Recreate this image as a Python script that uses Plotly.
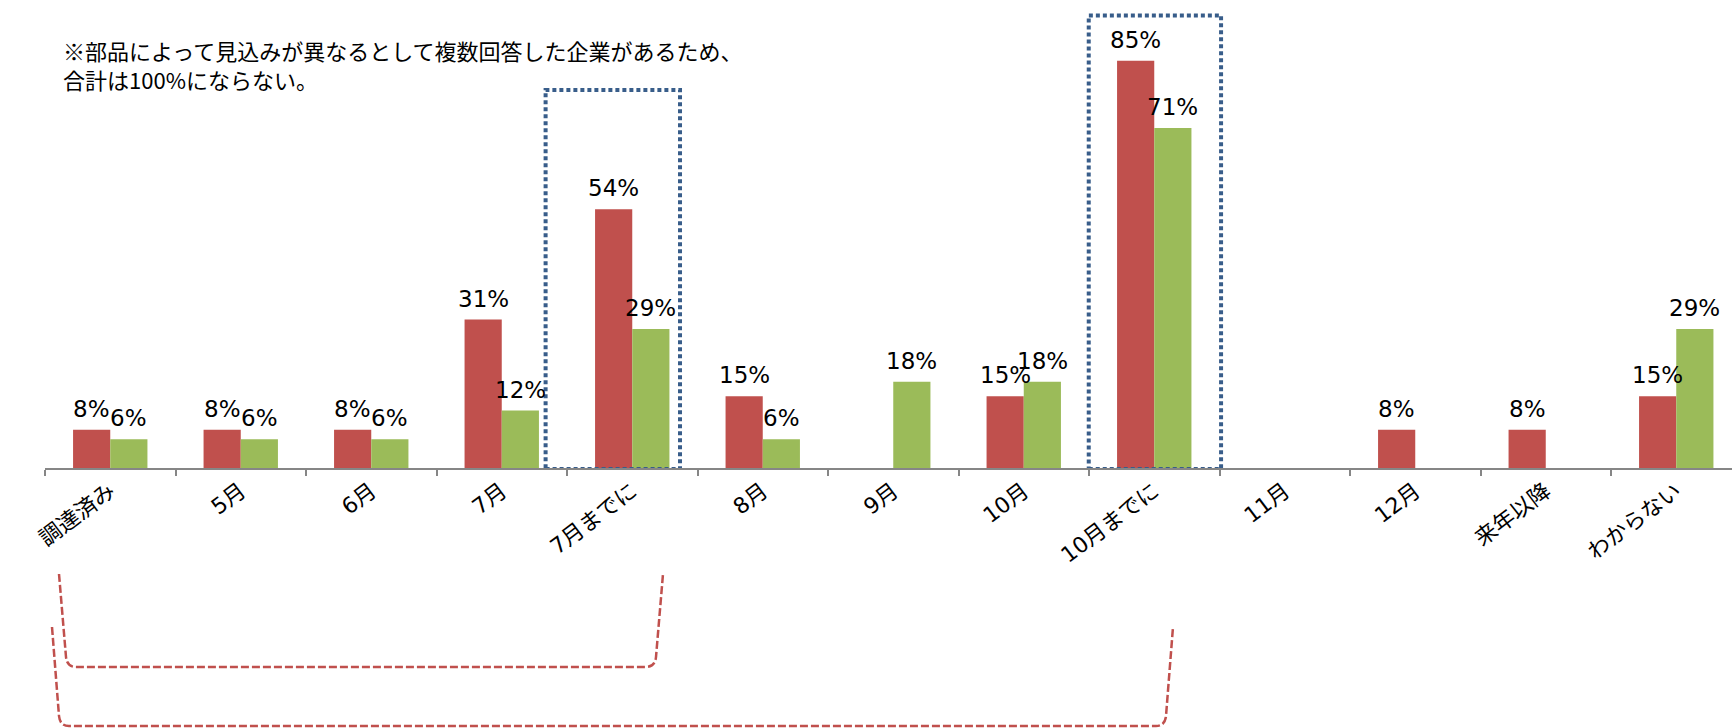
import plotly.graph_objects as go

# ---- data ----
categories = ["調達済み", "5月", "6月", "7月", "7月までに", "8月", "9月", "10月",
              "10月までに", "11月", "12月", "来年以降", "わからない"]
series_a = [8, 8, 8, 31, 54, 15, None, 15, 85, None, 8, 8, 15]      # red
series_b = [6, 6, 6, 12, 29, 6, 18, 18, 71, None, None, None, 29]   # green
note_text = ("※部品によって見込みが異なるとして複数回答した企業があるため、<br>"
             "合計は100%にならない。")

# ---- layout constants ----
W, H = 1732, 728
ML, MR, MT, MB = 45, 0, 0, 260
PW, PH = W - ML - MR, H - MT - MB
CAT_PX = 130.5
PX_PER_PCT = 4.79
XR = [-0.5, -0.5 + PW / CAT_PX]
YR = [0, PH / PX_PER_PCT]
BARGAP = 0.43
OFF = (1 - BARGAP) / 4

RED = "#C0504D"
GREEN = "#9BBB59"
BLUE = "#385D8A"
LABEL_FONT = "Verdana, DejaVu Sans, Noto Sans CJK JP"


def xp(px):
    return (px - ML) / PW


def yp(py):
    return (MT + PH - py) / PH


fig = go.Figure()
fig.add_trace(go.Bar(x=categories, y=series_a, name="A", marker_color=RED,
                     marker_line_width=0))
fig.add_trace(go.Bar(x=categories, y=series_b, name="B", marker_color=GREEN,
                     marker_line_width=0))

annotations = []
for i in range(len(categories)):
    for vals, sgn in ((series_a, -1), (series_b, 1)):
        v = vals[i]
        if v is None:
            continue
        annotations.append(dict(
            x=i + sgn * OFF, y=v, xref="x", yref="y", text=f"{v}%",
            showarrow=False, yanchor="bottom", xanchor="center", yshift=6,
            font=dict(family=LABEL_FONT, size=23, color="black")))

# note text
annotations.append(dict(x=xp(61), y=yp(65), xref="paper", yref="paper",
                        text=note_text, showarrow=False, xanchor="left",
                        yanchor="middle", align="left",
                        font=dict(family="Noto Sans CJK JP", size=22, color="black")))

shapes = []
# dotted highlight boxes
for x0, x1, ytop in ((3.336, 4.366, (PH - 90) / PX_PER_PCT),
                     (7.498, 8.512, (PH - 15.5) / PX_PER_PCT)):
    shapes.append(dict(type="rect", xref="x", yref="y", x0=x0, x1=x1,
                       y0=-0.2, y1=ytop,
                       line=dict(color=BLUE, width=4, dash="4px,3px"),
                       fillcolor="rgba(0,0,0,0)"))


def bracket(xl_top, xl_bot, xr_bot, xr_top, y_top, y_bot):
    r = 10
    return ("M {a},{b} L {c},{d} Q {e},{f} {g},{f} L {h},{f} Q {i},{f} {j},{d} L {k},{b}"
            .format(a=xp(xl_top), b=yp(y_top), c=xp(xl_bot), d=yp(y_bot - r),
                    e=xp(xl_bot + 1), f=yp(y_bot), g=xp(xl_bot + r),
                    h=xp(xr_bot - r), i=xp(xr_bot - 1), j=xp(xr_bot),
                    k=xp(xr_top)))


shapes.append(dict(type="path", xref="paper", yref="paper",
                   path=bracket(59, 66, 656, 663, 574, 667),
                   line=dict(color=RED, width=2.5, dash="8px,3px")))
shapes.append(dict(type="path", xref="paper", yref="paper",
                   path=bracket(52, 59, 1166, 1173, 627, 726),
                   line=dict(color=RED, width=2.5, dash="8px,3px")))

fig.update_layout(
    width=W, height=H,
    margin=dict(l=ML, r=MR, t=MT, b=MB, pad=0),
    paper_bgcolor="white", plot_bgcolor="white",
    barmode="group", bargap=BARGAP, bargroupgap=0,
    showlegend=False,
    annotations=annotations,
    shapes=shapes,
    xaxis=dict(range=XR, type="category", showgrid=False, zeroline=False,
               showline=True, linecolor="#868686", linewidth=1.5,
               ticks="outside", tickson="boundaries", ticklen=6,
               tickcolor="#868686", tickwidth=1.5, tickangle=-37,
               tickfont=dict(family=LABEL_FONT, size=22, color="black"),
               automargin=False),
    yaxis=dict(range=YR, visible=False, showgrid=False, zeroline=False,
               automargin=False),
)

fig.write_html("out.html")
